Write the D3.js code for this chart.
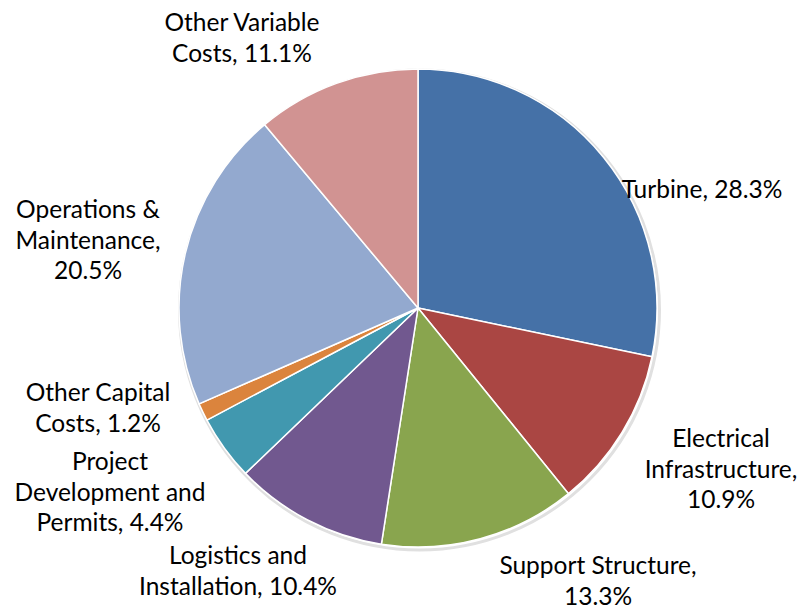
<!DOCTYPE html>
<html>
<head>
<meta charset="utf-8">
<script src="https://cdn.jsdelivr.net/npm/d3@7"></script>
<style>
  body { margin: 0; background: #fff; }
  svg { display: block; }
</style>
</head>
<body>
<svg id="chart" width="802" height="610"></svg>
<script>
// data
var categories = ["Turbine", "Electrical\nInfrastructure", "Support Structure", "Logistics and\nInstallation",
                  "Project\nDevelopment and\nPermits", "Other Capital\nCosts", "Operations &\nMaintenance",
                  "Other Variable\nCosts"];
var values = [28.3, 10.9, 13.3, 10.4, 4.4, 1.2, 20.5, 11.1];
var colors = ["#4571a7", "#aa4643", "#89a54e", "#71588f", "#4198af", "#db843d", "#93a9cf", "#d19392"];

// label layout (value goes on its own line when true)
var valueOnNewLine = [false, true, true, false, false, false, true, false];
var labelPos = [[702, 198], [721, 447], [598, 574], [238, 564], [110, 470], [98, 401], [88, 218], [242, 31]];

var cx = 418, cy = 308, radius = 239, lineH = 30.5;

var svg = d3.select('#chart');

var pie = d3.pie().sort(null).value(function(d){ return d; });
var arc = d3.arc().innerRadius(0).outerRadius(radius);

var g = svg.append('g').attr('transform', 'translate(' + cx + ',' + cy + ')');

// soft shadow ring, a bit heavier to the lower right
g.append('circle')
 .attr('cx', 1.5)
 .attr('cy', 2)
 .attr('r', radius + 1)
 .style('fill', 'none')
 .style('stroke', '#e0e0e0')
 .style('stroke-width', 3);

g.selectAll('path.slice')
 .data(pie(values))
 .enter().append('path')
 .attr('class', 'slice')
 .attr('d', arc)
 .style('fill', function(d, i){ return colors[i]; })
 .style('stroke', '#fff')
 .style('stroke-width', 1.5)
 .style('stroke-linejoin', 'round');

// labels
for(var i = 0; i < categories.length; i ++){
  var txt = categories[i] + (valueOnNewLine[i] ? ',\n' : ', ') + values[i].toFixed(1) + '%';
  var lines = txt.split('\n');
  var t = svg.append('text')
    .attr('x', labelPos[i][0])
    .attr('y', labelPos[i][1])
    .attr('text-anchor', 'middle')
    .style('font-family', 'Lato, "Open Sans", sans-serif')
    .style('font-size', '24.5px')
    .style('fill', '#000');
  for(var j = 0; j < lines.length; j ++){
    t.append('tspan')
     .attr('x', labelPos[i][0])
     .attr('dy', j == 0 ? 0 : lineH)
     .text(lines[j]);
  }
}
</script>
</body>
</html>
